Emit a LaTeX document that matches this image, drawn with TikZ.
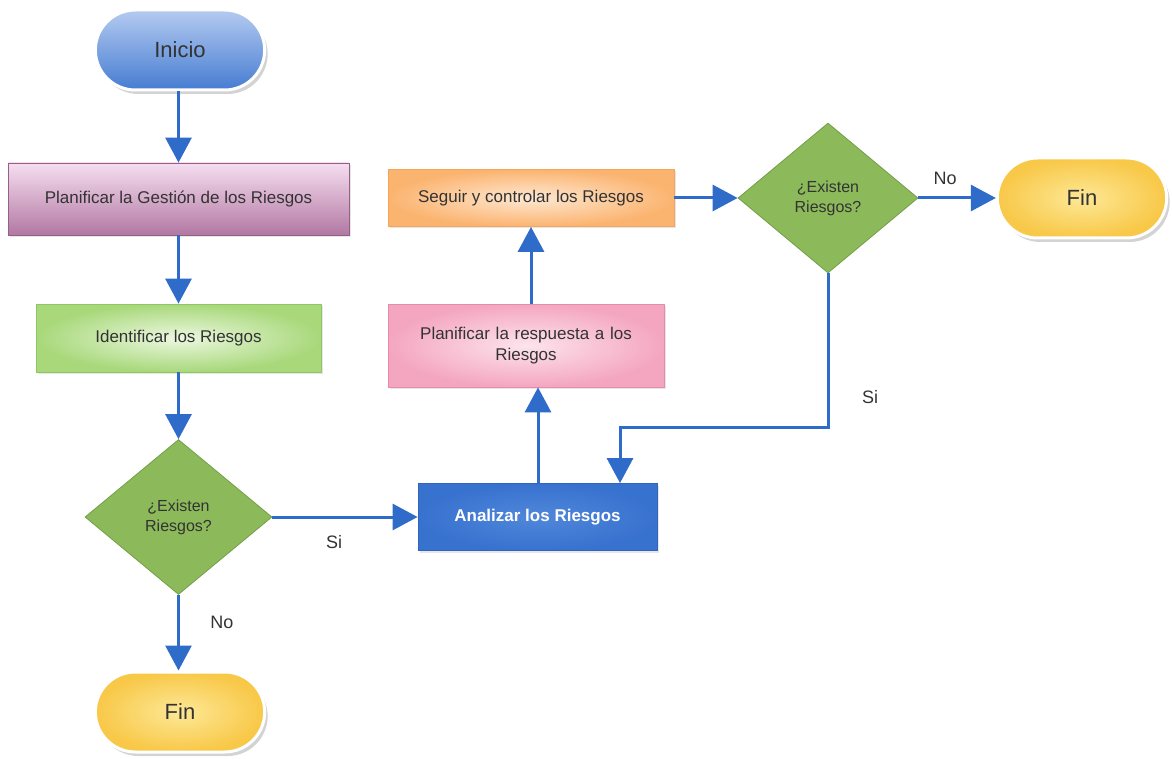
\documentclass[tikz,border=0pt]{standalone}
\usepackage{fontspec}
\setmainfont{Liberation Sans}
\usetikzlibrary{arrows.meta,shapes.geometric,shapes.misc,shadows,calc}
\definecolor{flow}{HTML}{2F6BC9}
\definecolor{txt}{HTML}{333333}
\definecolor{dgreen}{HTML}{8CBA5B}
\definecolor{dgreenb}{HTML}{739F47}
\definecolor{startTop}{HTML}{B4CBF0}
\definecolor{startBot}{HTML}{467CD2}
\definecolor{endIn}{HTML}{FDE896}
\definecolor{endOut}{HTML}{F8C848}
\definecolor{planTop}{HTML}{F6DEF0}
\definecolor{planBot}{HTML}{B278A3}
\definecolor{planDraw}{HTML}{965F87}
\definecolor{idIn}{HTML}{ECF8E0}
\definecolor{idOut}{HTML}{A8D87A}
\definecolor{idDraw}{HTML}{8CC864}
\definecolor{anIn}{HTML}{5087DA}
\definecolor{anOut}{HTML}{3872CF}
\definecolor{anDraw}{HTML}{3264BE}
\definecolor{rsIn}{HTML}{FDE4EC}
\definecolor{rsOut}{HTML}{F4A6C0}
\definecolor{rsDraw}{HTML}{E68CAA}
\definecolor{sgIn}{HTML}{FEE8D2}
\definecolor{sgOut}{HTML}{FBB470}
\definecolor{sgDraw}{HTML}{F5A55A}
\tikzset{
  pill/.style={rounded rectangle, minimum width=176pt, minimum height=80pt,
    draw=white, line width=3pt, text=txt, font=\fontsize{22}{26}\selectfont,
    drop shadow={shadow xshift=3pt, shadow yshift=-4pt, opacity=0.35, fill=gray}},
  stepbox/.style={rectangle, text=txt, font=\fontsize{17}{21}\selectfont, align=center,
    line width=0.8pt,
    drop shadow={shadow xshift=2pt, shadow yshift=-2pt, opacity=0.2, fill=gray}},
  decision/.style={diamond, aspect=1.2, inner sep=0pt, text=txt,
    font=\fontsize{16}{20}\selectfont, align=center,
    fill=dgreen, draw=dgreenb, line width=0.8pt},
  flowline/.style={draw=flow, line width=3pt,
    -{Triangle[width=26pt,length=25pt]}},
  lbl/.style={text=txt, font=\fontsize{18}{21}\selectfont}
}
\begin{document}
\begin{tikzpicture}[x=1pt,y=-1pt]
\useasboundingbox (0,0) rectangle (1172,759);

% start / end terminals
\node[pill, top color=startTop, bottom color=startBot] (inicio) at (180,50) {Inicio};
\node[pill, inner color=endIn, outer color=endOut] (fin1) at (180,712) {Fin};
\node[pill, inner color=endIn, outer color=endOut] (fin2) at (1082,198) {Fin};

% process steps
\node[stepbox, minimum width=341pt, minimum height=72pt, draw=planDraw,
  top color=planTop, bottom color=planBot]
  (plan) at (178.5,199) {Planificar la Gestión de los Riesgos};
\node[stepbox, minimum width=285pt, minimum height=68pt, draw=idDraw,
  inner color=idIn, outer color=idOut]
  (ident) at (178.5,338) {Identificar los Riesgos};
\node[stepbox, minimum width=239pt, minimum height=67pt, draw=anDraw,
  inner color=anIn, outer color=anOut,
  text=white, font=\bfseries\fontsize{17}{21}\selectfont]
  (anal) at (537.5,517) {Analizar los Riesgos};
\node[stepbox, minimum width=276pt, minimum height=83pt, draw=rsDraw,
  inner color=rsIn, outer color=rsOut, text width=260pt]
  (resp) at (526,345.5) {Planificar la respuesta a los\\Riesgos};
\node[stepbox, minimum width=286pt, minimum height=57pt, draw=sgDraw,
  inner color=sgIn, outer color=sgOut]
  (seguir) at (531,198) {Seguir y controlar los Riesgos};

% decisions
\node[decision, minimum width=187pt, minimum height=155pt] (dec1) at (178.5,517) {¿Existen\\Riesgos?};
\node[decision, minimum width=180pt, minimum height=150pt] (dec2) at (828,198) {¿Existen\\Riesgos?};

% connectors
\draw[flowline] (inicio.south -| plan.north) -- (plan.north);
\draw[flowline] (plan.south) -- (ident.north);
\draw[flowline] (ident.south) -- (dec1.north);
\draw[flowline] (dec1.east) -- (anal.west);
\draw[flowline] (dec1.south) -- (dec1.south |- fin1.north);
\draw[flowline] (anal.north -| 538,0) -- (resp.south -| 538,0);
\draw[flowline] (resp.north -| seguir.north) -- (seguir.south);
\draw[flowline] (seguir.east) -- (dec2.west);
\draw[flowline] (dec2.east) -- (fin2.west);
\coordinate (bend1) at (828,427);
\coordinate (bend2) at (620,427);
\draw[flowline] (dec2.south) -- (bend1) -- (bend2) -- (anal.north -| bend2);

% branch labels
\node[lbl] (si1) at (334,542) {Si};
\node[lbl] (no1) at (222,622) {No};
\node[lbl] (no2) at (945,178) {No};
\node[lbl] (si2) at (870,397) {Si};
\end{tikzpicture}
\end{document}
